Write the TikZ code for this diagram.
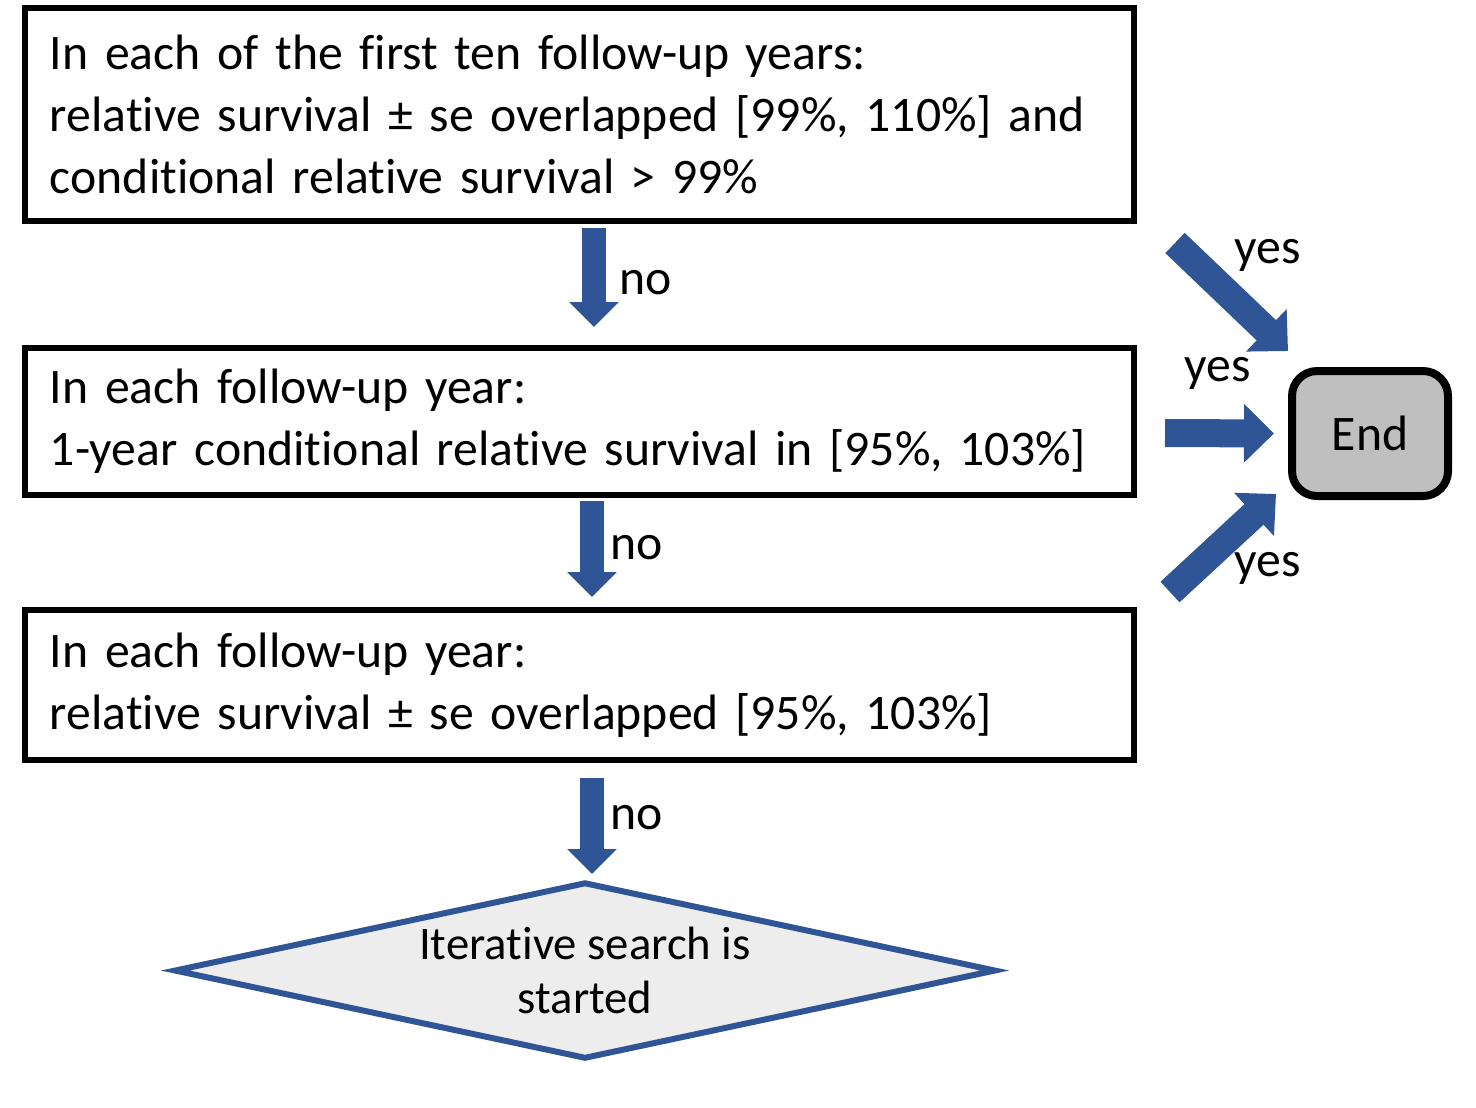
\documentclass[tikz,border=0pt]{standalone}
\usepackage{fontspec}
\setmainfont{Carlito}[Ligatures=NoCommon]
\usepackage{xcolor}
\usetikzlibrary{positioning,shapes.geometric,arrows.meta}
\definecolor{arrowblue}{RGB}{47,85,151}
\definecolor{endgray}{RGB}{191,191,191}
\definecolor{diafill}{RGB}{237,237,237}
\newcommand{\critfont}{\fontsize{14.15}{17.6}\selectfont}
\tikzset{
  crit/.style={draw=black, line width=0.06cm, fill=white, minimum width=11.09cm,
    text width=10.59cm, inner xsep=0.25cm, align=left, font=\critfont},
  endbox/.style={draw=black, line width=0.08cm, fill=endgray, rounded corners=0.25cm,
    minimum width=1.56cm, minimum height=1.25cm, font=\critfont},
  searchbox/.style={diamond, draw=arrowblue, line width=0.06cm, fill=diafill, aspect=4.9,
    inner sep=0pt, minimum width=8.22cm, minimum height=1.77cm, align=center,
    font=\fontsize{13.3}{15.4}\selectfont},
  downarrow/.style={draw=arrowblue, line width=0.24cm, -{Triangle[length=0.25cm, width=0.48cm]}},
  yesarrow/.style={draw=arrowblue, line width=0.28cm, -{Triangle[length=0.30cm, width=0.57cm]}},
  lab/.style={font=\critfont}
}
\begin{document}
\begin{tikzpicture}
          \useasboundingbox (0,0) rectangle (14.76,-11.07);

          % Define the criteria boxes
          \node[crit, minimum height=2.13cm] (first) at (5.795,-1.145) {In each of the first ten follow-up years:\\relative survival ± se overlapped [99\%, 110\%] and\\conditional relative survival > 99\%};
          \node[crit, minimum height=1.47cm] (cond) [below=1.21cm of first] {In each follow-up year:\\1-year conditional relative survival in [95\%, 103\%]};
          \node[crit, minimum height=1.50cm] (overlap) [below=1.09cm of cond] {In each follow-up year:\\relative survival ± se overlapped [95\%, 103\%]};

          % Define the end and the search nodes
          \node[endbox] (end) at (13.70,-4.335) {End};
          \node[searchbox] (search) [below=1.16cm of overlap, xshift=0.055cm] {Iterative search is\\started};

          % Free ends of the yes arrows
          \coordinate (yes1) at (11.75,-2.43);
          \coordinate (yes2) at (11.65,-4.33);
          \coordinate (yes3) at (11.70,-5.92);

          % Draw the no arrows
          \draw[downarrow, shorten <=0.04cm, shorten >=0.18cm] ([xshift=0.145cm]first.south) -- ([xshift=0.145cm]cond.north);
          \draw[downarrow, shorten <=0.03cm, shorten >=0.10cm] ([xshift=0.125cm]cond.south) -- ([xshift=0.125cm]overlap.north);
          \draw[downarrow, shorten <=0.15cm, shorten >=0.05cm] ([xshift=0.125cm]overlap.south) -- ([xshift=0.07cm]search.north);

          % Draw the yes arrows
          \draw[yesarrow] (yes1) -- ([yshift=0.16cm]end.north west);
          \draw[yesarrow, shorten >=0.14cm] (yes2) -- (end.west);
          \draw[yesarrow] (yes3) -- ([xshift=-0.12cm,yshift=0.06cm]end.south west);

          % Labels
          \node[lab] (no1) at (6.46,-2.83) {no};
          \node[lab] (no2) at (6.37,-5.48) {no};
          \node[lab] (no3) at (6.37,-8.18) {no};
          \node[lab] (yesa) at (12.68,-2.55) {yes};
          \node[lab] (yesb) at (12.18,-3.73) {yes};
          \node[lab] (yesc) at (12.68,-5.68) {yes};

          \end{tikzpicture}
\end{document}
